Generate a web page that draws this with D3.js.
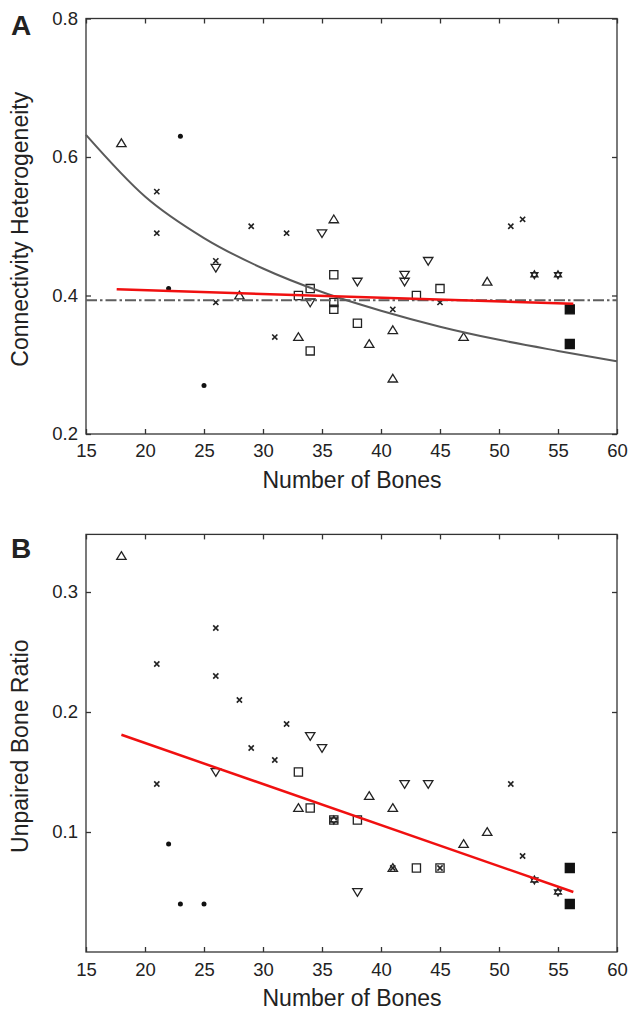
<!DOCTYPE html>
<html><head><meta charset="utf-8">
<script src="https://cdn.jsdelivr.net/npm/d3@7"></script>
<style>
body{margin:0;background:#fff}
svg{display:block}
text{font-family:"Liberation Sans",Arial,Helvetica,sans-serif;fill:#222}
</style>
</head><body>
<svg id="c" width="632" height="1010"></svg>
<script>
// ---------- tick labels ----------
const xTicks = [15, 20, 25, 30, 35, 40, 45, 50, 55, 60];
const aYTicks = [0.2, 0.4, 0.6, 0.8];
const bYTicks = [0.1, 0.2, 0.3];
const xTitle = "Number of Bones";
const aYTitle = "Connectivity Heterogeneity";
const bYTitle = "Unpaired Bone Ratio";

// ---------- Panel A data [bones, heterogeneity] ----------
const aTriUp = [[18,0.62],[28,0.40],[33,0.34],[36,0.51],[39,0.33],[41,0.35],[41,0.28],[47,0.34],[49,0.42]];
const aTriDown = [[26,0.44],[34,0.39],[35,0.49],[38,0.42],[42,0.43],[42,0.42],[44,0.45]];
const aSquare = [[33,0.40],[34,0.41],[34,0.32],[36,0.43],[36,0.39],[36,0.38],[38,0.36],[43,0.40],[45,0.41]];
const aCross = [[21,0.55],[21,0.49],[26,0.45],[26,0.39],[29,0.50],[31,0.34],[32,0.49],[41,0.38],[45,0.39],[51,0.50],[52,0.51]];
const aDot = [[22,0.41],[23,0.63],[25,0.27]];
const aStar = [[53,0.43],[55,0.43]];
const aFilledSquare = [[56,0.38],[56,0.33]];
// grey power-law fit
const aCurveX = [15, 20, 25, 30, 35, 40, 45, 50, 55, 60];
const aCurveY = [0.632, 0.543, 0.483, 0.439, 0.405, 0.378, 0.355, 0.336, 0.320, 0.305];
// red regression line
const aRedX = [17.6, 56.3];
const aRedY = [0.409, 0.388];
// dash-dot mean line
const aMeanX = [15, 60];
const aMeanY = [0.393, 0.393];

// ---------- Panel B data [bones, unpaired ratio] ----------
const bTriUp = [[18,0.33],[33,0.12],[39,0.13],[41,0.12],[41,0.07],[47,0.09],[49,0.10]];
const bTriDown = [[26,0.15],[34,0.18],[35,0.17],[38,0.05],[42,0.14],[44,0.14]];
const bSquare = [[33,0.15],[34,0.12],[36,0.11],[38,0.11],[43,0.07],[45,0.07]];
const bCross = [[21,0.24],[21,0.14],[26,0.27],[26,0.23],[28,0.21],[29,0.17],[31,0.16],[32,0.19],[41,0.07],[45,0.07],[51,0.14],[52,0.08]];
const bDot = [[22,0.09],[23,0.04],[25,0.04]];
const bStar = [[36,0.11],[53,0.06],[55,0.05]];
const bFilledSquare = [[56,0.07],[56,0.04]];
const bRedX = [18, 56.3];
const bRedY = [0.181, 0.050];

// ---------- drawing ----------
const svg = d3.select("#c");
const ink = "#222";

const markerPath = {
  triUp: "M0,-4.3L4.7,3.4L-4.7,3.4Z",
  triDown: "M0,4.3L4.7,-3.4L-4.7,-3.4Z",
  square: "M-4.1,-4.1H4.1V4.1H-4.1Z",
  cross: "M-2.6,-2.6L2.6,2.6M-2.6,2.6L2.6,-2.6",
  star: "M0,-4L3.5,2L-3.5,2Z M0,4L3.5,-2L-3.5,-2Z",
  filledSquare: "M-4.5,-4.5H4.5V4.5H-4.5Z"
};

function panel(opt) {
  const g = svg.append("g");
  const x = d3.scaleLinear().domain([15, 60]).range([86, 617]);
  const y = d3.scaleLinear().domain(opt.yDomain).range(opt.yRange);
  const [y0, y1] = opt.yRange;

  // frame
  g.append("rect").attr("x", 86).attr("y", y1).attr("width", 531).attr("height", y0 - y1)
    .attr("fill", "none").attr("stroke", "#333").attr("stroke-width", 1.3);

  const styleAxis = sel => {
    sel.select(".domain").remove();
    sel.selectAll("line").attr("stroke", "#333").attr("stroke-width", 1.3);
    sel.selectAll("text").attr("font-size", 18.5).attr("fill", "#222")
      .attr("font-family", '"Liberation Sans", Arial, sans-serif');
  };
  g.append("g").attr("transform", `translate(0,${y0})`)
    .call(d3.axisBottom(x).tickValues(xTicks).tickSizeInner(-5).tickSizeOuter(0).tickPadding(opt.xPad))
    .call(styleAxis);
  g.append("g").attr("transform", `translate(0,${y1})`)
    .call(d3.axisTop(x).tickValues(xTicks).tickSizeInner(-5).tickSizeOuter(0).tickFormat(""))
    .call(styleAxis);
  g.append("g").attr("transform", `translate(86,0)`)
    .call(d3.axisLeft(y).tickValues(opt.yTicks).tickSizeInner(-5).tickSizeOuter(0).tickPadding(8).tickFormat(d3.format(".1f")))
    .call(styleAxis);
  g.append("g").attr("transform", `translate(617,0)`)
    .call(d3.axisRight(y).tickValues(opt.yTicks).tickSizeInner(-5).tickSizeOuter(0).tickFormat(""))
    .call(styleAxis);

  // markers
  opt.series.forEach(s => {
    const sel = g.append("g").selectAll("g").data(s.data).join("g")
      .attr("transform", d => `translate(${x(d[0])},${y(d[1])})`);
    if (s.type === "dot") {
      sel.append("circle").attr("r", 2.5).attr("fill", "#111");
    } else {
      sel.append("path").attr("d", markerPath[s.type])
        .attr("fill", s.type === "filledSquare" ? "#111" : "none")
        .attr("stroke", s.type === "filledSquare" ? "#111" : ink)
        .attr("stroke-width", s.type === "cross" ? 1.6 : 1.3);
    }
  });

  // lines
  opt.lines.forEach(l => {
    const pts = l.xs.map((v, i) => [v, l.ys[i]]);
    const gen = d3.line().x(d => x(d[0])).y(d => y(d[1])).curve(l.curve || d3.curveLinear);
    g.append("path").attr("d", gen(pts)).attr("fill", "none")
      .attr("stroke", l.color).attr("stroke-width", l.width)
      .attr("stroke-dasharray", l.dash || null);
  });

  // titles
  g.append("text").attr("x", 352).attr("y", opt.xTitleY).attr("text-anchor", "middle")
    .attr("font-size", 23).text(xTitle);
  g.append("text").attr("transform", `translate(28,${(y0 + y1) / 2 + 3}) rotate(-90)`)
    .attr("text-anchor", "middle").attr("font-size", 23).text(opt.yTitle);
  g.append("text").attr("x", 11).attr("y", opt.letterY).attr("font-size", 28)
    .attr("font-weight", "bold").attr("fill", "#000").text(opt.letter);
}

panel({
  yDomain: [0.2, 0.8], yRange: [434, 18.5], yTicks: aYTicks, xPad: 10,
  xTitleY: 488, yTitle: aYTitle, letter: "A", letterY: 35,
  series: [
    {type: "triUp", data: aTriUp}, {type: "triDown", data: aTriDown},
    {type: "square", data: aSquare}, {type: "cross", data: aCross},
    {type: "dot", data: aDot}, {type: "star", data: aStar},
    {type: "filledSquare", data: aFilledSquare}
  ],
  lines: [
    {xs: aMeanX, ys: aMeanY, color: "#5e5e5e", width: 2, dash: "11,3,2.5,3"},
    {xs: aCurveX, ys: aCurveY, color: "#5a5a5a", width: 2, curve: d3.curveMonotoneX},
    {xs: aRedX, ys: aRedY, color: "#f01010", width: 2.5}
  ]
});

panel({
  yDomain: [0, 0.348], yRange: [952, 534.4], yTicks: bYTicks, xPad: 11,
  xTitleY: 1006, yTitle: bYTitle, letter: "B", letterY: 558,
  series: [
    {type: "triUp", data: bTriUp}, {type: "triDown", data: bTriDown},
    {type: "square", data: bSquare}, {type: "cross", data: bCross},
    {type: "dot", data: bDot}, {type: "star", data: bStar},
    {type: "filledSquare", data: bFilledSquare}
  ],
  lines: [
    {xs: bRedX, ys: bRedY, color: "#f01010", width: 2.5}
  ]
});
</script>
</body></html>
